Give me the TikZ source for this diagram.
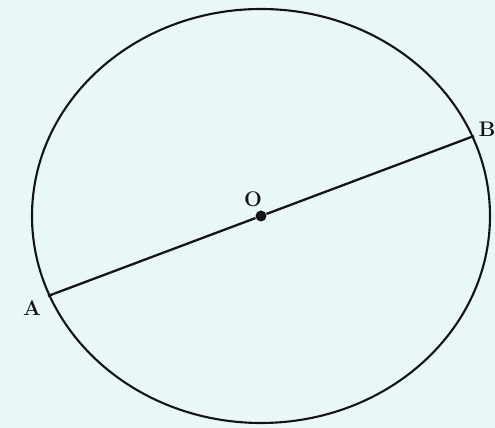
\documentclass[tikz,border=0pt]{standalone}
\usepackage{tikz}
\usetikzlibrary{positioning,calc}
\usepackage{xcolor}
\definecolor{PaperTint}{RGB}{234,247,249}
\definecolor{InkBlack}{RGB}{20,20,20}
\tikzset{
  circline/.style={draw=InkBlack,line width=1.2pt},
  chordline/.style={draw=InkBlack,line width=1.3pt},
  ptlabel/.style={text=InkBlack,inner sep=0pt,font=\fontsize{12}{14}\selectfont\bfseries},
  centerdot/.style={circle,fill=InkBlack,inner sep=0pt,minimum size=0.22cm},
}

\begin{document}
\begin{tikzpicture}[x=0.02cm,y=-0.02cm]
  \fill[PaperTint] (0,0) rectangle (495,428);
  \useasboundingbox (0,0) rectangle (495,428);
  \coordinate (ctr) at (261,216);
  \coordinate (ptA) at (48,296);
  \coordinate (ptB) at (474,136);
  \draw[circline] (ctr) ellipse [x radius=229,y radius=207];
  \node[centerdot] (dotO) at ($(ptA)!0.5!(ptB)$) {};
  \node[ptlabel] (labO) at ($(dotO)+(-8,-17)$) {O};
  \node[ptlabel] (labA) at ($(ptA)+(-16,12)$) {A};
  \node[ptlabel] (labB) at ($(ptB)+(13,-7)$) {B};
  \draw[chordline] (ptA) -- (dotO) -- (ptB);
\end{tikzpicture}
\end{document}
